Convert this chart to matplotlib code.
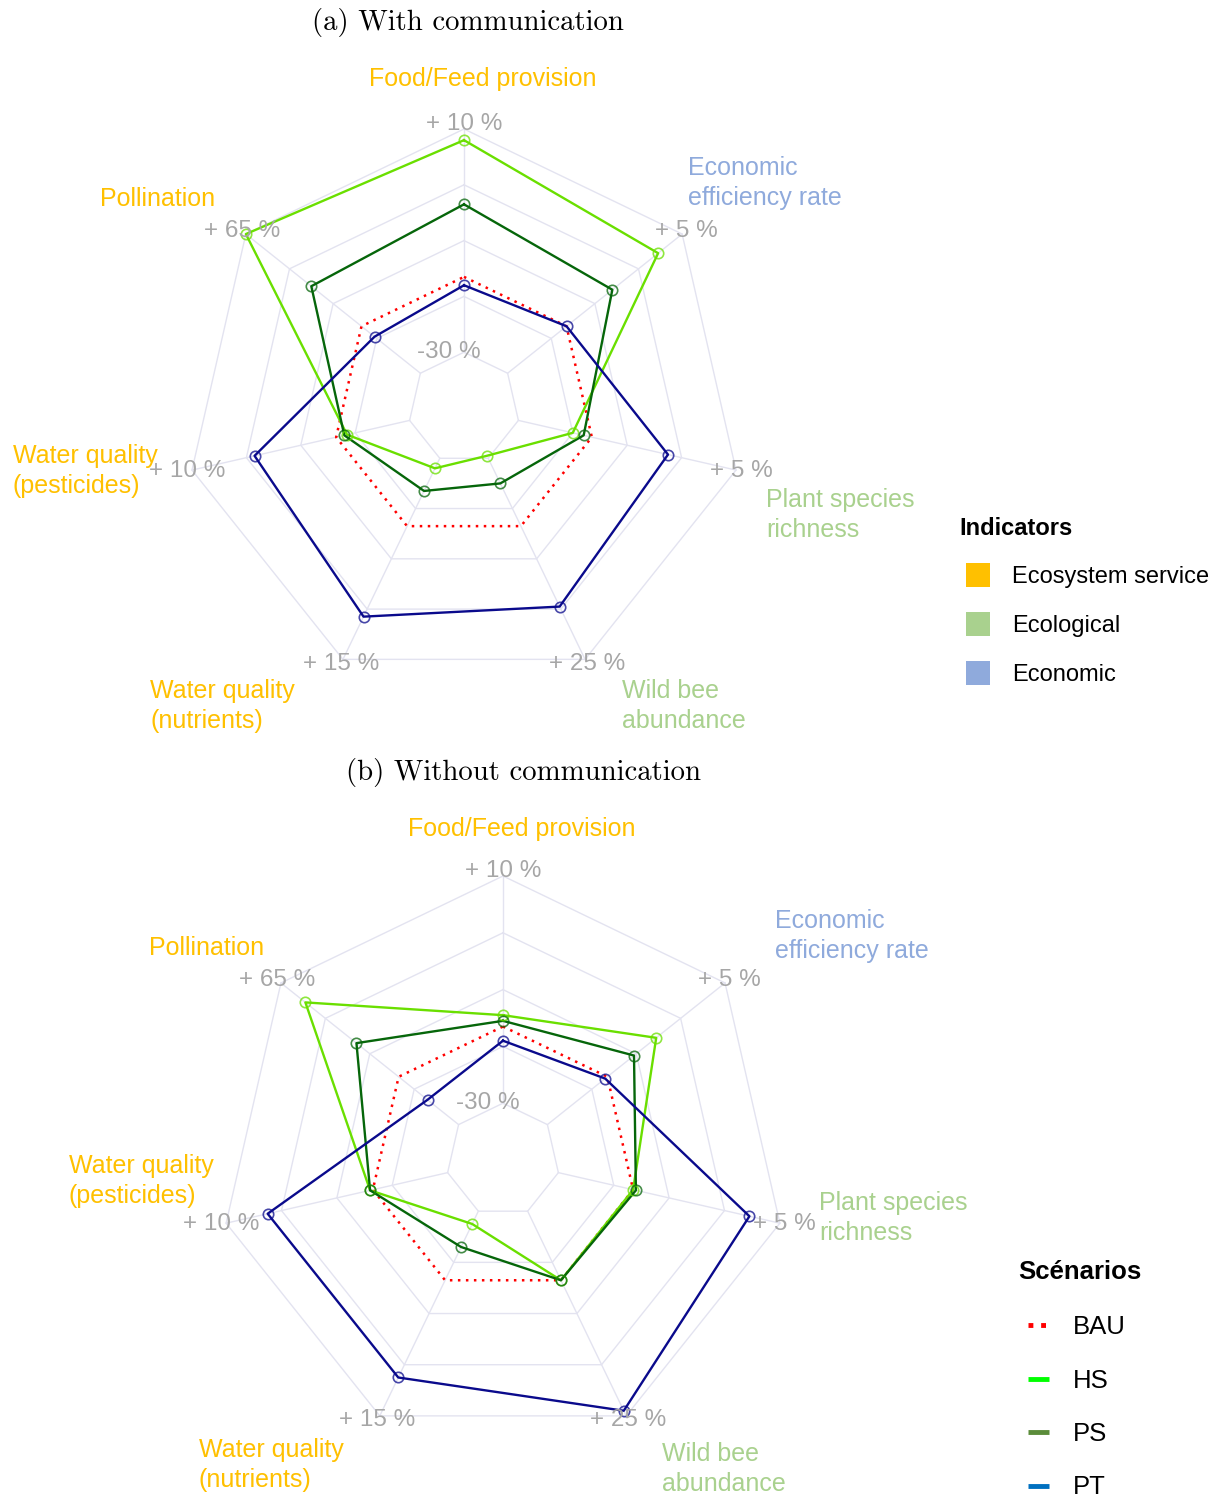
import numpy as np
import matplotlib
matplotlib.use('Agg')
import matplotlib.pyplot as plt
from matplotlib.lines import Line2D
from matplotlib.patches import Rectangle

# Axes of the radar, clockwise from the top
indicators = ['Food/Feed provision', 'Economic\nefficiency rate', 'Plant species\nrichness',
              'Wild bee\nabundance', 'Water quality\n(nutrients)', 'Water quality\n(pesticides)',
              'Pollination']
indicator_type = ['Ecosystem service', 'Economic', 'Ecological', 'Ecological',
                  'Ecosystem service', 'Ecosystem service', 'Ecosystem service']
max_labels = ['+ 10 %', '+ 5 %', '+ 5 %', '+ 25 %', '+ 15 %', '+ 10 %', '+ 65 %']
min_label = '-30 %'

# scores (0 = centre, 1 = outer ring)
with_bau = [0.47, 0.47, 0.47, 0.47, 0.47, 0.47, 0.47]
with_hs = [0.96, 0.89, 0.40, 0.19, 0.24, 0.43, 1.00]
with_ps = [0.73, 0.68, 0.44, 0.30, 0.33, 0.44, 0.70]
with_pt = [0.44, 0.47, 0.75, 0.79, 0.83, 0.77, 0.41]

without_bau = [0.47, 0.47, 0.47, 0.47, 0.47, 0.47, 0.47]
without_hs = [0.51, 0.69, 0.47, 0.47, 0.25, 0.48, 0.89]
without_ps = [0.49, 0.59, 0.48, 0.47, 0.34, 0.48, 0.66]
without_pt = [0.42, 0.46, 0.89, 0.98, 0.85, 0.85, 0.34]

scenarios = ['BAU', 'HS', 'PS', 'PT']
line_colors = {'BAU': '#FF0000', 'HS': '#6ADF00', 'PS': '#06660A', 'PT': '#0A0A8C'}
legend_colors = {'BAU': '#FF0000', 'HS': '#00FF00', 'PS': '#5B8C3A', 'PT': '#0070C0'}
type_colors = {'Ecosystem service': '#FFC000', 'Ecological': '#A9D18E', 'Economic': '#8FAADC'}

W, H = 1215, 1496
SANS = 'Liberation Sans'
GRID = '#E3E3F0'
SCALE_GRAY = '#A6A6A6'

fig = plt.figure(figsize=(W / 100, H / 100), dpi=100)

n = len(indicators)
theta = np.arange(n) * 2 * np.pi / n


def px(x, y):
    return x / W, 1 - y / H


def radar(cx, cy, R, series, label_pos):
    ax = fig.add_axes([0, 0, 1, 1])
    ax.set_xlim(-cx / R, (W - cx) / R)
    ax.set_ylim(-(H - cy) / R, cy / R)
    ax.set_facecolor('none')
    ax.axis('off')

    # heptagon grid
    t = np.append(theta, theta[0])
    for lev in [0.2, 0.4, 0.6, 0.8, 1.0]:
        ax.plot(lev * np.sin(t), lev * np.cos(t), color=GRID, lw=1.0, zorder=1)
    for a in theta:
        ax.plot([0.2 * np.sin(a), np.sin(a)], [0.2 * np.cos(a), np.cos(a)],
                color=GRID, lw=1.0, zorder=1)

    for name, vals in zip(scenarios, series):
        v = np.array(vals + vals[:1])
        if name == 'BAU':
            ax.plot(v * np.sin(t), v * np.cos(t), color=line_colors[name], lw=1.8,
                    ls=(0, (1, 2.2)), zorder=2)
        else:
            ax.plot(v * np.sin(t), v * np.cos(t), color=line_colors[name], lw=1.7, zorder=3)
            ax.plot(v[:-1] * np.sin(theta), v[:-1] * np.cos(theta), ls='none', marker='o',
                    ms=7.5, mfc='none', mec=line_colors[name], mew=1.2, alpha=0.75, zorder=4)

    # scale labels, a little outside the outer ring
    off = 5 / R
    for a, lab in zip(theta, max_labels):
        ax.text((1 + off) * np.sin(a), (1 + off) * np.cos(a), lab, ha='center', va='center',
                fontsize=17.5, color=SCALE_GRAY, family=SANS, zorder=5)
    ax.text(-15 / R, 0.2, min_label, ha='center', va='center', fontsize=17.5,
            color=SCALE_GRAY, family=SANS, zorder=5)

    # indicator names
    for lab, kind, (x, y, ha) in zip(indicators, indicator_type, label_pos):
        fig.text(*px(x, y), lab, ha=ha, va='center', fontsize=18, color=type_colors[kind],
                 family=SANS, linespacing=1.35)


radar(464, 408, 279, [with_bau, with_hs, with_ps, with_pt],
      [(483, 79, 'center'), (688, 183, 'left'), (766, 515, 'left'), (622, 706, 'left'),
       (150, 706, 'left'), (13, 471, 'left'), (100, 199, 'left')])
radar(503, 1160, 284, [without_bau, without_hs, without_ps, without_pt],
      [(522, 829, 'center'), (775, 936, 'left'), (819, 1218, 'left'), (662, 1469, 'left'),
       (199, 1465, 'left'), (69, 1181, 'left'), (149, 948, 'left')])

fig.text(*px(468, 22), '(a) With communication', ha='center', va='center',
         fontsize=20.7, family='cmr10')
fig.text(*px(524, 772), '(b) Without communication', ha='center', va='center',
         fontsize=20.7, family='cmr10')

# legend: indicators
fig.text(*px(959, 528), 'Indicators', ha='left', va='center', fontsize=17,
         fontweight='bold', family=SANS)
for i, kind in enumerate(['Ecosystem service', 'Ecological', 'Economic']):
    y = 575 + i * 49
    x0, y0 = px(966, y + 12)
    fig.add_artist(Rectangle((x0, y0), 24 / W, 24 / H, transform=fig.transFigure,
                             color=type_colors[kind], lw=0))
    fig.text(*px(1012, y + 2), kind, ha='left', va='center', fontsize=17, family=SANS)

# legend: scenarios
fig.text(*px(1018, 1272), 'Scénarios', ha='left', va='center', fontsize=18.5,
         fontweight='bold', family=SANS)
for i, name in enumerate(scenarios):
    y = 1325 + i * 53.5
    xa, ya = px(1028, y)
    xb, _ = px(1049, y)
    ls = (0, (1, 1.6)) if name == 'BAU' else '-'
    fig.add_artist(Line2D([xa, xb], [ya, ya], transform=fig.transFigure,
                          color=legend_colors[name], lw=3.5, ls=ls,
                          solid_capstyle='butt', dash_capstyle='butt'))
    fig.text(*px(1073, y + 2), name, ha='left', va='center', fontsize=18.5, family=SANS)

fig.savefig('out.png', dpi=100)
